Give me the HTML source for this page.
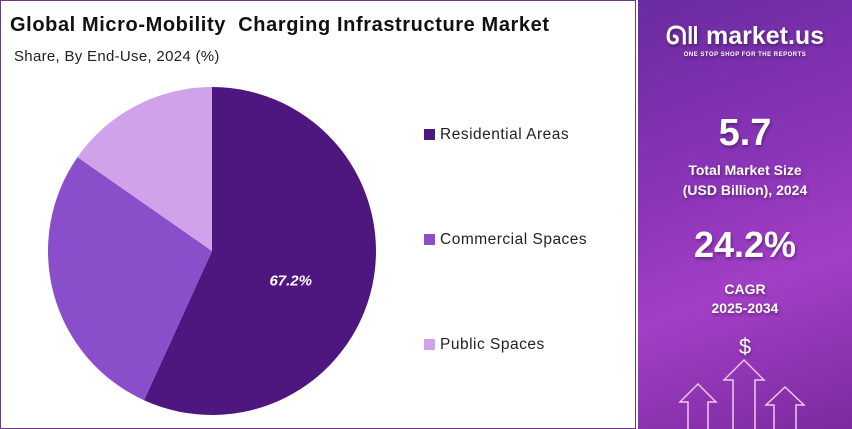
<!DOCTYPE html>
<html><head><meta charset="utf-8"><style>
body{margin:0;width:852px;height:429px;overflow:hidden;background:#fff;font-family:"Liberation Sans",sans-serif;}
#left{position:absolute;left:0;top:0;width:634px;height:427px;border:1px solid #6b3a86;}
#right{position:absolute;left:638px;top:0;width:214px;height:429px;background:linear-gradient(160deg,#6a2ba0 0%,#8a34b8 40%,#a33fc6 65%,#7a2a9e 100%);color:#fff;text-align:center;}
.t{position:absolute;width:100%;font-weight:bold;text-shadow:1px 2px 3px rgba(0,0,0,.35);}
</style></head><body>
<div id="left">
<div style="position:absolute;left:9px;top:13px;font-size:20px;font-weight:bold;color:#111;letter-spacing:0.6px;">Global Micro-Mobility&nbsp; Charging Infrastructure Market</div>
<div style="position:absolute;left:13px;top:47px;font-size:15px;color:#222;letter-spacing:0.3px;">Share, By End-Use, 2024 (%)</div>
<svg id="pie" width="634" height="427" style="position:absolute;left:0;top:0"></svg>
</div>
<div id="right">
<div class="t" style="top:22px;font-size:25px;">ᘏ‖ market.us</div>
<div class="t" style="top:52px;font-size:6px;letter-spacing:.5px;">ONE STOP SHOP FOR THE REPORTS</div>
<div class="t" style="top:112px;font-size:38px;">5.7</div>
<div class="t" style="top:160px;font-size:14px;line-height:20px;">Total Market Size<br>(USD Billion), 2024</div>
<div class="t" style="top:224px;font-size:36px;">24.2%</div>
<div class="t" style="top:280px;font-size:14px;line-height:19px;">CAGR<br>2025-2034</div>
<div class="t" style="top:334px;font-size:22px;font-weight:normal;">$</div>
<svg width="214" height="429" style="position:absolute;left:0;top:0" fill="none" stroke="#f0c8f0" stroke-width="1.5">
<path d="M50 429V402H42L60 384L78 402H70V429"/><path d="M95 429V380H86L106 360L126 380H117V429"/><path d="M136 429V405H128L147 387L166 405H158V429"/>
</svg>
</div>
<script>
const categories=["Residential Areas","Commercial Spaces","Public Spaces"];
const shares=[56.8,27.9,15.3];
const printedLabels=["67.2%","",""];
const colors=["#4e1780","#8a4ecb","#cfa2ea"];
const svg=document.getElementById('pie');const NS="http://www.w3.org/2000/svg";
const cx=211,cy=250,r=164;const total=shares.reduce((a,b)=>a+b,0);
function pt(a,rr){return [cx+rr*Math.sin(a),cy-rr*Math.cos(a)];}
let a0=0;
shares.forEach((v,i)=>{const a1=a0+v/total*2*Math.PI;const p0=pt(a0,r),p1=pt(a1,r);
const p=document.createElementNS(NS,'path');
p.setAttribute('d',`M${cx},${cy}L${p0[0]},${p0[1]}A${r},${r} 0 ${a1-a0>Math.PI?1:0} 1 ${p1[0]},${p1[1]}Z`);
p.setAttribute('fill',colors[i]);


svg.appendChild(p);
if(printedLabels[i]){const m=pt((a0+a1)/2,r*0.51);const t=document.createElementNS(NS,'text');
t.setAttribute('x',m[0]-3);t.setAttribute('y',m[1]+17);t.setAttribute('text-anchor','middle');t.setAttribute('fill','#fff');t.setAttribute('font-size','15');t.setAttribute('font-weight','bold');t.setAttribute('font-style','italic');t.textContent=printedLabels[i];


svg.appendChild(t);}
a0=a1;});
categories.forEach((c,i)=>{const y=133+i*105;
const g=document.createElementNS(NS,'g');


const s=document.createElementNS(NS,'rect');s.setAttribute('x',423);s.setAttribute('y',y-5);s.setAttribute('width',11);s.setAttribute('height',11);s.setAttribute('fill',colors[i]);
const t=document.createElementNS(NS,'text');t.setAttribute('x',439);t.setAttribute('y',y+5);t.setAttribute('font-size','15.5');t.setAttribute('letter-spacing','0.5');t.setAttribute('fill','#222');t.textContent=c;
g.appendChild(s);g.appendChild(t);svg.appendChild(g);});
</script>
</body></html>
